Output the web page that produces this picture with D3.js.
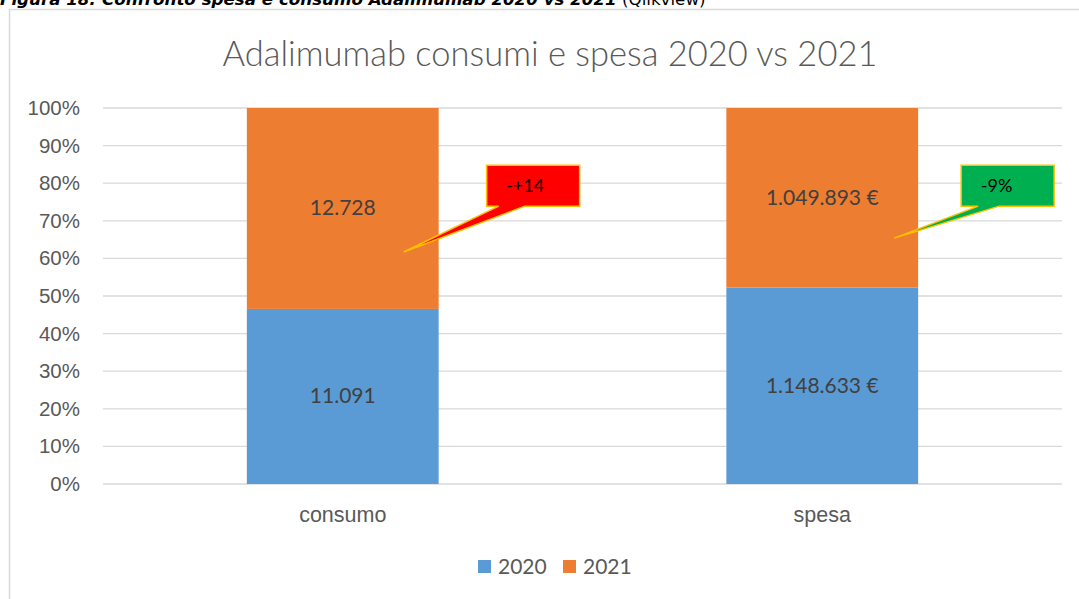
<!DOCTYPE html>
<html>
<head>
<meta charset="utf-8">
<script src="https://cdnjs.cloudflare.com/ajax/libs/d3/7.8.5/d3.min.js"></script>
<style>
    body { margin: 0; background: #fff; }
    svg { display: block; font-family: Lato, "Open Sans", sans-serif; }
    .grid line { stroke: #d9d9d9; stroke-width: 1.3; }
    .axis text { fill: #595959; font-size: 20.5px; }
    .axis-x text { font-size: 21.5px; }
    .lbl { fill: #404040; font-size: 21px; }
</style>
</head>
<body>
<div id="chart"></div>
<script>
var categories = ["consumo", "spesa"];
var years = ["2020", "2021"];
var values2020 = [11091, 1148633];
var values2021 = [12728, 1049893];
var valueLabels2020 = ["11.091", "1.148.633 €"];
var valueLabels2021 = ["12.728", "1.049.893 €"];
var yTicks = [0, 0.1, 0.2, 0.3, 0.4, 0.5, 0.6, 0.7, 0.8, 0.9, 1];
var callouts = ["-+14", "-9%"];
var calloutColors = ["#ff0000", "#00b050"];
var colors = ["#5b9bd5", "#ed7d31"];

var width = 1079, height = 599
    , margin = {left: 103, right: 17, top: 108, bottom: 115};

var svg = d3.select("#chart").append("svg")
    .attr("width", width)
    .attr("height", height);

// caption above the frame (cropped in the original)
var cap = svg.append("text")
    .attr("x", 0)
    .attr("y", 4.5)
    .style("font-family", "'DejaVu Sans', Verdana, sans-serif")
    .style("font-size", "16.7px")
    .attr("fill", "#000");
cap.append("tspan")
    .style("font-weight", "bold")
    .style("font-style", "italic")
    .text("Figura 18: Confronto spesa e consumo Adalimumab 2020 vs 2021");
cap.append("tspan")
    .text(" (Qlikview)");

// frame
svg.append("rect")
    .attr("x", 9.5).attr("y", 9.5)
    .attr("width", 1100).attr("height", 700)
    .attr("fill", "none")
    .attr("stroke", "#d9d9d9")
    .attr("stroke-width", 1.5);

svg.append("text")
    .attr("x", 550)
    .attr("y", 66)
    .attr("text-anchor", "middle")
    .attr("fill", "#595959")
    .style("font-size", "34.5px")
    .style("font-weight", 300)
    .text("Adalimumab consumi e spesa 2020 vs 2021");

var w = width - margin.left - margin.right
    , h = height - margin.top - margin.bottom;

var g = svg.append("g").attr("transform", "translate(" + margin.left + "," + margin.top + ")");

var x = d3.scaleBand().domain(categories).range([0, w]);
var barW = x.step() * 0.4;

var y = d3.scaleLinear().domain([0, 1]).range([h, 0]);

g.append("g")
    .attr("class", "grid")
    .selectAll("line")
    .data(yTicks)
    .join("line")
    .attr("x1", 0).attr("x2", w)
    .attr("y1", function(d) { return y(d); })
    .attr("y2", function(d) { return y(d); });

var yAxis = d3.axisLeft(y)
    .tickValues(yTicks)
    .tickSize(0)
    .tickPadding(23)
    .tickFormat(d3.format(".0%"));

g.append("g")
    .attr("class", "axis")
    .call(yAxis)
    .call(function(s) { s.select(".domain").remove(); });

var xAxis = d3.axisBottom(x).tickSize(0).tickPadding(23);
g.append("g")
    .attr("class", "axis axis-x")
    .attr("transform", "translate(0," + h + ")")
    .call(xAxis)
    .call(function(s) { s.select(".domain").remove(); });

var rows = categories.map(function(c, i) {
    var tot = values2020[i] + values2021[i];
    return {cat: c, a: values2020[i] / tot, i: i};
});

var bars = g.selectAll(".bar").data(rows).join("g")
    .attr("transform", function(d) { return "translate(" + (x(d.cat) + x.bandwidth() / 2 - barW / 2) + ",0)"; });

bars.append("rect")
    .attr("y", function(d) { return y(d.a); })
    .attr("height", function(d) { return h - y(d.a); })
    .attr("width", barW)
    .attr("fill", colors[0]);

bars.append("rect")
    .attr("y", y(1))
    .attr("height", function(d) { return y(d.a) - y(1); })
    .attr("width", barW)
    .attr("fill", colors[1]);

bars.append("text")
    .attr("class", "lbl")
    .attr("x", barW / 2)
    .attr("y", function(d) { return y(d.a / 2) + 7; })
    .attr("text-anchor", "middle")
    .text(function(d) { return valueLabels2020[d.i]; });

bars.append("text")
    .attr("class", "lbl")
    .attr("x", barW / 2)
    .attr("y", function(d) { return y((1 + d.a) / 2) + 7; })
    .attr("text-anchor", "middle")
    .text(function(d) { return valueLabels2021[d.i]; });

// callouts (tip position in chart units, relative to bar)
var boxW = 93, boxH = 41;
var tipY = [0.617, 0.654];
var tipDx = [-35, -24];
var boxDx = [48, 43];
var textDx = [-8, -11];

rows.forEach(function(d) {
    var edge = x(d.cat) + x.bandwidth() / 2 + barW / 2;
    var bx = edge + boxDx[d.i];
    var by = y(0.848);
    var tx = edge + tipDx[d.i];
    var ty = y(tipY[d.i]);
    var b0 = bx + (d.i ? 17 : 12), b1 = bx + 38;
    var c = g.append("g");
    c.append("path")
        .attr("d", "M" + bx + "," + by + "H" + (bx + boxW) + "V" + (by + boxH) +
            "H" + b1 + "L" + tx + "," + ty + "L" + b0 + "," + (by + boxH) + "H" + bx + "Z")
        .attr("fill", calloutColors[d.i])
        .attr("stroke", "#ffc000")
        .attr("stroke-width", 1.5)
        .attr("stroke-linejoin", "miter");
    c.append("text")
        .attr("x", bx + boxW / 2 + textDx[d.i])
        .attr("y", by + boxH / 2 + 6)
        .attr("text-anchor", "middle")
        .attr("fill", "#000")
        .style("font-size", "18px")
        .text(callouts[d.i]);
});

// legend
var leg = svg.append("g").attr("transform", "translate(478,560)");
var li = leg.selectAll("g").data(years).join("g")
    .attr("transform", function(d, i) { return "translate(" + (i * 85) + ",0)"; });
li.append("rect").attr("width", 13).attr("height", 13)
    .attr("fill", function(d, i) { return colors[i]; });
li.append("text")
    .attr("x", 20).attr("y", 14)
    .attr("fill", "#595959")
    .style("font-size", "21px")
    .text(function(d) { return d; });
</script>
</body>
</html>
